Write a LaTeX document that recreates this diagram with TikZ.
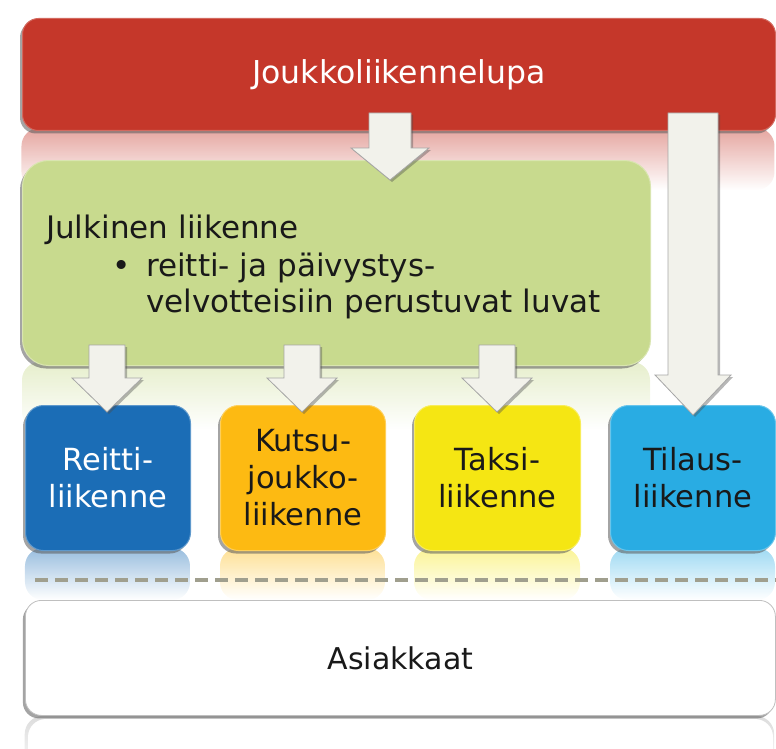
\documentclass[tikz,border=0pt]{standalone}
\usepackage{fontspec}
\setmainfont{DejaVu Sans}
\usetikzlibrary{shadows,fadings,calc}
\definecolor{cred}{RGB}{197,55,42}
\definecolor{cgreen}{RGB}{200,218,142}
\definecolor{cblue}{RGB}{27,109,182}
\definecolor{corange}{RGB}{253,186,18}
\definecolor{cyellow}{RGB}{245,230,19}
\definecolor{clight}{RGB}{41,172,227}
\definecolor{carrow}{RGB}{242,242,235}
\definecolor{cdash}{RGB}{160,159,142}
\tikzfading[name=reflfade, top color=transparent!55, bottom color=transparent!100]
\newcommand\blockarrow[5]{% start, tip, shaft half, head half, head length
  \draw[arrowstyle] let \p1=#1, \p2=#2 in
    (\x2-#3,\y1) -- (\x2+#3,\y1) -- (\x2+#3,\y2+#5) -- (\x2+#4,\y2+#5) -- (\x2,\y2)
    -- (\x2-#4,\y2+#5) -- (\x2-#3,\y2+#5) -- cycle;}
\begin{document}
\begin{tikzpicture}[x=1pt,y=-1pt,
  every node/.style={inner sep=0pt},
  box/.style={anchor=north west, rounded corners=18pt,
    drop shadow={shadow xshift=-2.5pt,shadow yshift=-3pt,opacity=0.55,fill=black!65},
    font=\fontsize{30.5}{37}\selectfont, align=center},
  refl/.style={path fading=reflfade, rounded corners=18pt},
  arrowstyle/.style={fill=carrow, draw=black!35, line width=0.8pt, line join=miter,
    drop shadow={shadow xshift=2pt,shadow yshift=-2pt,opacity=0.4,fill=black!70}},
  dashline/.style={draw=cdash, line width=3.5pt, dash pattern=on 13pt off 7pt},
  gtext/.style={anchor=base west, font=\fontsize{31}{37}\selectfont, text=black!90}
]
\useasboundingbox (0,0) rectangle (776,749);
% reflections
\fill[cred, refl] (22,128) rectangle (776,190);
\fill[cgreen, refl] (22,362) rectangle (650,430);
\fill[cblue, refl] (25,548) rectangle (190,600);
\fill[corange, refl] (220,548) rectangle (385,600);
\fill[cyellow, refl] (414,548) rectangle (580,600);
\fill[clight, refl] (610,548) rectangle (775,600);
\fill[black!30, refl] (25,716) rectangle (775,780);
\fill[white, rounded corners=18pt] (28,719) rectangle (773,780);
% boxes
\node[box, fill=cred, draw=cred!75!white, line width=1pt, rounded corners=16pt,
  minimum width=753pt, minimum height=112pt, text=white, font=\fontsize{31.5}{37}\selectfont] (red) at (22,18) {Joukkoliikennelupa};
\node[box, fill=cgreen, draw=cgreen!70!white, line width=1pt, rounded corners=26pt,
  minimum width=628pt, minimum height=205pt] (green) at (22,160) {};
\node[gtext] (gt1) at (46,238) {Julkinen liikenne};
\node[gtext] (gt2) at (112,276) {•};
\node[gtext] (gt3) at (146,276) {reitti- ja päivystys-};
\node[gtext] (gt4) at (146,312) {velvotteisiin perustuvat luvat};
\node[box, fill=cblue, draw=cblue!70!white, line width=1pt, text=white,
  minimum width=165pt, minimum height=145pt] (reitti) at (25,405) {Reitti-\\liikenne};
\node[box, fill=corange, draw=corange!70!white, line width=1pt, text=black!90,
  minimum width=165pt, minimum height=145pt] (kutsu) at (220,405) {Kutsu-\\joukko-\\liikenne};
\node[box, fill=cyellow, draw=cyellow!70!white, line width=1pt, text=black!90,
  minimum width=166pt, minimum height=145pt] (taksi) at (414,405) {Taksi-\\liikenne};
\node[box, fill=clight, draw=clight!70!white, line width=1pt, text=black!90,
  minimum width=165pt, minimum height=145pt] (tilaus) at (610,405) {Tilaus-\\liikenne};
\draw[dashline] (35,580) -- (776,580);
\node[box, fill=white, draw=black!25, line width=0.8pt, rounded corners=16pt, text=black!90,
  minimum width=750pt, minimum height=115pt, font=\fontsize{30}{37}\selectfont] (asiakkaat) at (25,600) {Asiakkaat};
% arrows
\coordinate (a0s) at (390,113); \coordinate (a0t) at (390,180);
\coordinate (a1s) at (107,345); \coordinate (a1t) at (107,412);
\coordinate (a2s) at (302,345); \coordinate (a2t) at (302,412);
\coordinate (a3s) at (497,345); \coordinate (a3t) at (497,412);
\coordinate (a4s) at (693,113); \coordinate (a4t) at (693,415);
\blockarrow{(a0s)}{(a0t)}{21pt}{39pt}{32pt}
\blockarrow{(a1s)}{(a1t)}{18pt}{35pt}{34pt}
\blockarrow{(a2s)}{(a2t)}{18pt}{35pt}{34pt}
\blockarrow{(a3s)}{(a3t)}{18pt}{35pt}{34pt}
\blockarrow{(a4s)}{(a4t)}{25pt}{38pt}{40pt}
\end{tikzpicture}
\end{document}
